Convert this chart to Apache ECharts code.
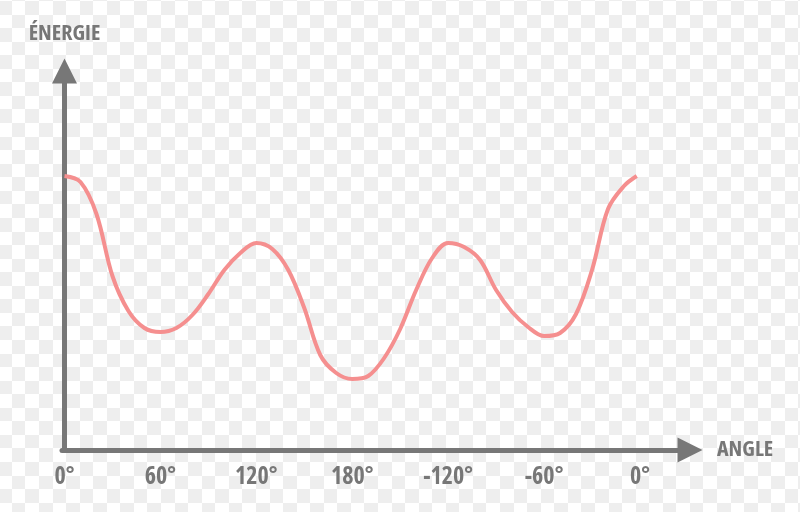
<!DOCTYPE html>
<html>
<head>
<meta charset="utf-8">
<script src="https://cdn.jsdelivr.net/npm/echarts@6.0.0/dist/echarts.min.js"></script>
<style>
html,body{margin:0;padding:0;background:#fff;}
#chart{width:800px;height:512px;}
</style>
</head>
<body>
<div id="chart"></div>
<script>
// Data
const angleTicks = [0, 60, 120, 180, 240, 300, 360];
const angleLabels = ['0°', '60°', '120°', '180°', '-120°', '-60°', '0°'];
const angles = [0, 10, 20, 30, 40, 50, 60, 70, 80, 90, 100, 110, 120, 130, 140, 150, 160, 170, 180, 190, 200, 210, 220, 230, 240, 250, 260, 270, 280, 290, 300, 310, 320, 330, 340, 350, 358];
const energy = [274, 268, 236, 174, 139, 122, 118, 122, 135, 156, 180, 197, 207, 201, 180, 142, 95, 77, 71, 74, 92, 121, 160, 192, 207, 203, 190, 160, 138, 123, 114, 117, 136, 180, 241, 264, 274];
const xName = 'ANGLE';
const yName = 'ÉNERGIE';

// faint checkerboard backdrop seen in the reference
const cv = document.createElement('canvas');
cv.width = 800; cv.height = 512;
const ctx = cv.getContext('2d');
ctx.fillStyle = '#ffffff';
ctx.fillRect(0, 0, 800, 512);
ctx.fillStyle = '#eeeeee';
const s = 13.56, ox = -1.7, oy = 1;
for (let i = -1; i < 62; i++) {
  for (let j = -1; j < 40; j++) {
    if (((i + j) % 2 + 2) % 2 === 0) {
      const x0 = Math.round(ox + i * s), x1 = Math.round(ox + (i + 1) * s);
      const y0 = Math.round(oy + j * s), y1 = Math.round(oy + (j + 1) * s);
      ctx.fillRect(x0, y0, x1 - x0, y1 - y0);
    }
  }
}

const axisColor = '#777777';
const font = '"Open Sans", Roboto, sans-serif';
const chart = echarts.init(document.getElementById('chart'), null, {renderer: 'canvas'});
chart.setOption({
  animation: false,
  backgroundColor: '#ffffff',
  graphic: [{
    type: 'image', z: -100, silent: true, left: 0, top: 0,
    style: {image: cv, x: 0, y: 0, width: 800, height: 512}
  }],
  grid: {left: 62, right: 110, top: 71, bottom: 62, containLabel: false},
  xAxis: {
    type: 'value', min: -1.56, max: 391.3,
    name: xName, nameLocation: 'end', nameGap: 27,
    nameTextStyle: {color: axisColor, fontFamily: font, fontWeight: 'bold condensed', fontSize: 22, align: 'left', verticalAlign: 'middle'},
    axisLine: {show: true, symbol: ['none', 'triangle'], symbolSize: [25, 25], lineStyle: {color: axisColor, width: 5}},
    axisTick: {show: false},
    splitLine: {show: false},
    axisLabel: {
      show: true, customValues: angleTicks, margin: 15,
      color: axisColor, fontFamily: font, fontWeight: 'bold condensed', fontSize: 24,
      formatter: function (v) { const k = angleTicks.indexOf(Math.round(v)); return k >= 0 ? angleLabels[k] : ''; }
    }
  },
  yAxis: {
    type: 'value', min: 0, max: 379,
    name: yName, nameLocation: 'end', nameGap: 37,
    nameTextStyle: {color: axisColor, fontFamily: font, fontWeight: 'bold condensed', fontSize: 22, align: 'center', verticalAlign: 'middle'},
    axisLine: {show: true, symbol: ['none', 'triangle'], symbolSize: [25, 25], lineStyle: {color: axisColor, width: 5, cap: 'square'}},
    axisTick: {show: false},
    splitLine: {show: false},
    axisLabel: {show: false}
  },
  series: [{
    type: 'line',
    data: angles.map((a, i) => [a, energy[i]]),
    showSymbol: false,
    smooth: 0.35,
    lineStyle: {color: '#f58f8f', width: 4},
    z: 3
  }]
});
</script>
</body>
</html>
